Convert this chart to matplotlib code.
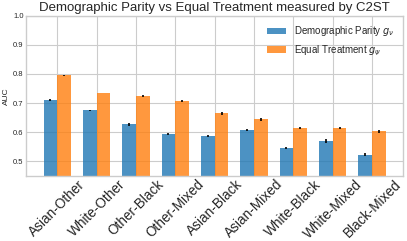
import numpy as np
import matplotlib
matplotlib.use("Agg")
import matplotlib.pyplot as plt

pairs = ["Asian-Other", "White-Other", "Other-Black", "Other-Mixed", "Asian-Black",
         "Asian-Mixed", "White-Black", "White-Mixed", "Black-Mixed"]
dp_auc = [0.710, 0.675, 0.628, 0.594, 0.587, 0.607, 0.545, 0.570, 0.523]
dp_err = [0.003, 0.002, 0.005, 0.004, 0.003, 0.004, 0.004, 0.006, 0.005]
et_auc = [0.795, 0.735, 0.724, 0.708, 0.665, 0.644, 0.614, 0.614, 0.603]
et_err = [0.003, 0.001, 0.004, 0.003, 0.006, 0.004, 0.003, 0.003, 0.004]

plt.style.use("seaborn-v0_8-whitegrid")
plt.rcParams["font.family"] = ["Liberation Sans", "DejaVu Sans"]
fig, ax = plt.subplots(figsize=(4.07, 2.41), dpi=100)
x = np.arange(len(pairs)); w = 0.35
ax.bar(x - w/2, dp_auc, w, yerr=dp_err, color="tab:blue", alpha=0.8, ecolor="black",
       error_kw={"elinewidth": 1.2}, label=r"Demographic Parity $g_\nu$")
ax.bar(x + w/2, et_auc, w, yerr=et_err, color="tab:orange", alpha=0.8, ecolor="black",
       error_kw={"elinewidth": 1.2}, label=r"Equal Treatment $g_\psi$")
ax.set_xticks(x)
ax.set_xticklabels(pairs, rotation=45, fontsize=9.8, ha="center")
ax.tick_params(axis="y", labelsize=5.5, pad=2)
ax.tick_params(axis="x", pad=1)
ax.set_ylim(0.45, 1.0)
ax.set_ylabel("AUC", fontsize=6, labelpad=2)
ax.set_title("Demographic Parity vs Equal Treatment measured by C2ST", fontsize=9.5, pad=3)
ax.legend(fontsize=7, loc="upper right", handlelength=2.0)
fig.subplots_adjust(left=0.065, right=0.99, top=0.935, bottom=0.27)
fig.savefig("out.png", dpi=100)
